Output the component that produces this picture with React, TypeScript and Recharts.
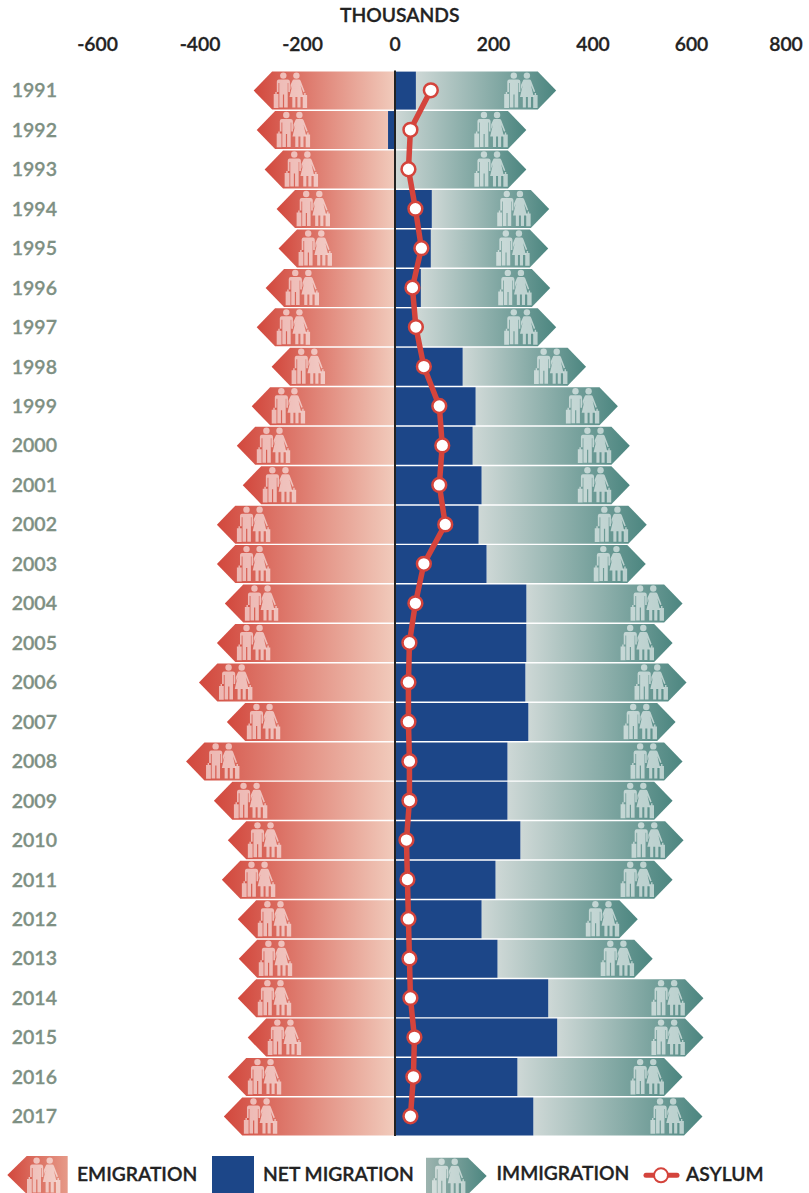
import React from "react";
import { ComposedChart, Bar, Line, XAxis, YAxis, ReferenceLine, Legend } from "recharts";

const years = ["1991","1992","1993","1994","1995","1996","1997","1998","1999","2000","2001","2002","2003","2004","2005","2006","2007","2008","2009","2010","2011","2012","2013","2014","2015","2016","2017"];
const immigration = [324,264,264,310,308,312,324,384,448,472,472,506,504,578,558,586,564,578,558,580,558,488,518,620,620,578,618];
const emigration = [-284,-278,-262,-238,-234,-260,-278,-248,-288,-318,-306,-358,-358,-342,-358,-394,-338,-420,-364,-336,-348,-316,-314,-316,-296,-336,-344];
const net = [42,-14,2,74,72,52,44,136,162,156,174,168,184,264,264,262,268,226,226,252,202,174,206,308,326,246,278];
const asylum = [72,31,27,41,53,35,42,58,89,95,89,101,58,41,29,27,27,29,29,23,25,27,29,31,39,37,31];
const xTicks = [-600,-400,-200,0,200,400,600,800];
const legendLabels = ["EMIGRATION","NET MIGRATION","IMMIGRATION","ASYLUM"];

const tickShift: Record<string, number> = { "-600": 1, "-400": 4, "-200": 7, "0": 0, "200": -1, "400": -1, "600": -2, "800": -7 };

const rows = years.map((year, i) => ({ year, immigration: immigration[i], emigration: emigration[i], net: net[i], asylum: asylum[i] }));

const FONT = "Lato, 'Open Sans', sans-serif";
const WEIGHT = 600;
const FONT_SIZE = 19.3;
const INK = "#222222";
const RED = "#d2483d";
const RED_LIGHT = "#f1cbbc";
const TEAL = "#4c8680";
const TEAL_LIGHT = "#ced8d6";
const BLUE = "#1c4688";
const LINE_RED = "#d4443c";
const YEAR_INK = "#7e9083";
const HEAD = 18.4;

function Couple({ x, y, opacity = 0.58 }: { x: number; y: number; opacity?: number }) {
  return (
    <g transform={`translate(${x},${y})`} fill="#ffffff" fillOpacity={opacity}>
      <circle cx={9.6} cy={4} r={3.2} />
      <path d="M5 8H14Q16 8 16.2 10V20.5H14.6V11.5H14V36H10.4V23H9.2V36H5.6V11.5H4.8V20.5H3.1V10Q3.3 8 5 8Z" />
      <path d="M0 22.5H4.8V36.3H0ZM1.6 20.5H3V22.5H1.6Z" />
      <circle cx={22.7} cy={4} r={3.2} />
      <path d="M20.2 8H25.2Q26.4 8 27 9.4L31 20L29.7 20.6L26.8 13.6L29.6 25.5H26.8V36H23.7V25.5H21.7V36H18.6V25.5H15.8L18.6 13.6L16.8 18.5V13.5L18.6 9.4Q19 8 20.2 8Z" />
      <path d="M29 23.5H33.4V36.3H29ZM30.5 21.5H31.9V23.5H30.5Z" />
    </g>
  );
}

function ImmigrationArrow(props: any) {
  const { x, y, width, height, index, payload } = props;
  const scale = width / payload.immigration;
  const start = x + Math.max(payload.net, 0) * scale;
  const tip = x + width;
  const id = `imm-${index}`;
  return (
    <g>
      <defs>
        <linearGradient id={id} gradientUnits="userSpaceOnUse" x1={start} x2={tip} y1={0} y2={0}>
          <stop offset="0" stopColor={TEAL_LIGHT} />
          <stop offset="1" stopColor={TEAL} />
        </linearGradient>
      </defs>
      <polygon
        points={`${start},${y} ${tip - HEAD},${y} ${tip},${y + height / 2} ${tip - HEAD},${y + height} ${start},${y + height}`}
        fill={`url(#${id})`}
      />
      <Couple x={tip - 52} y={y} />
    </g>
  );
}

function EmigrationArrow(props: any) {
  const { x, y, width, height, index } = props;
  const a = x + width;
  const tip = Math.min(x, a);
  const zero = Math.max(x, a);
  const id = `emi-${index}`;
  return (
    <g>
      <defs>
        <linearGradient id={id} gradientUnits="userSpaceOnUse" x1={tip} x2={zero} y1={0} y2={0}>
          <stop offset="0" stopColor={RED} />
          <stop offset="1" stopColor={RED_LIGHT} />
        </linearGradient>
      </defs>
      <polygon
        points={`${zero},${y} ${tip + HEAD},${y} ${tip},${y + height / 2} ${tip + HEAD},${y + height} ${zero},${y + height}`}
        fill={`url(#${id})`}
      />
      <Couple x={tip + 20} y={y} />
    </g>
  );
}

function XTick(props: any) {
  const { x, y, payload } = props;
  return (
    <text x={x + tickShift[String(payload.value)]} y={y - 2} textAnchor="middle" fontFamily={FONT} fontSize={FONT_SIZE} fontWeight={WEIGHT} fill={INK} stroke={INK} strokeWidth={0.3}>
      {payload.value}
    </text>
  );
}

function YTick(props: any) {
  const { x, y, payload } = props;
  return (
    <text x={x} y={y + 7} textAnchor="end" fontFamily={FONT} fontSize={19.5} fontWeight={WEIGHT} fill={YEAR_INK} stroke={YEAR_INK} strokeWidth={0.3}>
      {payload.value}
    </text>
  );
}

function LegendBlock() {
  const t = { fontFamily: FONT, fontSize: FONT_SIZE, fontWeight: WEIGHT, fill: INK, stroke: INK, strokeWidth: 0.3, dominantBaseline: "central" as const };
  return (
    <svg width={809} height={43} style={{ position: "absolute", left: 0, top: 0, overflow: "visible" }}>
      <defs>
        <linearGradient id="lg-emi" x1="0" x2="1" y1="0" y2="0">
          <stop offset="0" stopColor={RED} />
          <stop offset="1" stopColor="#e69a88" />
        </linearGradient>
        <linearGradient id="lg-imm" x1="0" x2="1" y1="0" y2="0">
          <stop offset="0" stopColor="#9db4af" />
          <stop offset="1" stopColor={TEAL} />
        </linearGradient>
      </defs>
      <polygon points="67.7,6 26.7,6 7.3,25 26.7,44 67.7,44" fill="url(#lg-emi)" />
      <Couple x={27} y={6.6} />
      <text x={77} y={23} {...t}>{legendLabels[0]}</text>
      <rect x={212} y={6} width={42} height={38} fill={BLUE} />
      <text x={263} y={23} {...t}>{legendLabels[1]}</text>
      <polygon points="426,7.7 468,7.7 486.7,26 468,44.3 426,44.3" fill="url(#lg-imm)" />
      <Couple x={432} y={7.7} />
      <text x={496.5} y={22} {...t}>{legendLabels[2]}</text>
      <line x1={646} x2={677} y1={25.3} y2={25.3} stroke={LINE_RED} strokeWidth={5} strokeLinecap="round" />
      <circle cx={661} cy={25.3} r={7} fill="#fff" stroke={LINE_RED} strokeWidth={2} />
      <text x={686} y={23} {...t}>{legendLabels[3]}</text>
    </svg>
  );
}

export default function App() {
  return (
    <div style={{ position: "absolute", left: 0, top: 0, width: 809, height: 1193, background: "#fff" }}>
      <ComposedChart
        width={809}
        height={1193}
        data={rows}
        layout="vertical"
        stackOffset="sign"
        margin={{ top: 0, right: 16, bottom: 57, left: 0 }}
      >
        <XAxis
          type="number"
          orientation="top"
          domain={[-600, 800]}
          ticks={xTicks}
          interval={0}
          height={70.6}
          axisLine={false}
          tickLine={false}
          tickSize={0}
          tickMargin={18}
          tick={<XTick />}
          label={{ value: "THOUSANDS", position: "insideTop", dx: -45, dy: 3, style: { fontFamily: FONT, fontSize: FONT_SIZE, fontWeight: WEIGHT, fill: INK, stroke: INK, strokeWidth: 0.3 } }}
        />
        <YAxis
          yAxisId="main"
          type="category"
          dataKey="year"
          width={96.5}
          interval={0}
          axisLine={false}
          tickLine={false}
          tickSize={0}
          tickMargin={39.5}
          tick={<YTick />}
        />
        <YAxis yAxisId="net" type="category" dataKey="year" hide />
        <Bar yAxisId="main" dataKey="emigration" stackId="arrows" barSize={38} shape={EmigrationArrow} isAnimationActive={false} />
        <Bar yAxisId="main" dataKey="immigration" stackId="arrows" barSize={38} shape={ImmigrationArrow} isAnimationActive={false} />
        <Bar yAxisId="net" dataKey="net" barSize={38} fill={BLUE} isAnimationActive={false} />
        <ReferenceLine yAxisId="main" x={0} stroke={INK} strokeWidth={2} />
        <Line
          yAxisId="main"
          dataKey="asylum"
          type="linear"
          stroke={LINE_RED}
          strokeWidth={5.5}
          dot={{ r: 6.9, fill: "#fff", stroke: LINE_RED, strokeWidth: 2.5 }}
          activeDot={false}
          isAnimationActive={false}
        />
        <Legend
          content={<LegendBlock />}
          wrapperStyle={{ position: "absolute", left: 0, top: 1150, bottom: "auto", width: 809, height: 0, overflow: "visible" }}
        />
      </ComposedChart>
    </div>
  );
}
